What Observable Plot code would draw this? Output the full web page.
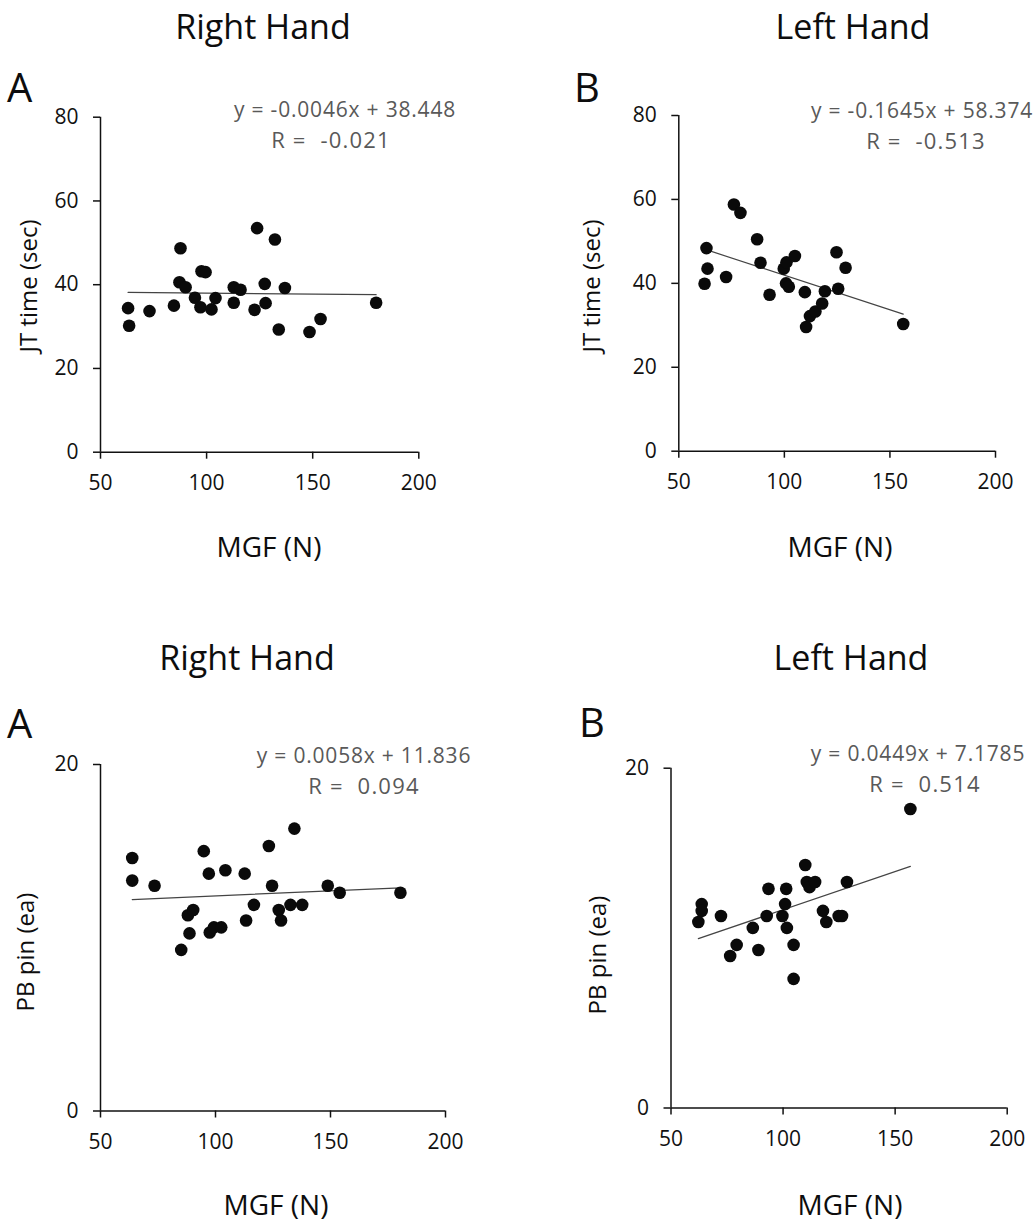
<!DOCTYPE html>
<html><head><meta charset="utf-8">
<script src="https://cdn.jsdelivr.net/npm/d3@7"></script>
<script src="https://cdn.jsdelivr.net/npm/@observablehq/plot@0.6"></script>
<style>
body{margin:0;background:#fff;}
#wrap{position:relative;width:1033px;height:1223px;font-family:"Open Sans",sans-serif;overflow:hidden;}
.panel{position:absolute;}
#ann{position:absolute;left:0;top:0;pointer-events:none;}
</style></head><body><div id="wrap"></div>
<script>
// ---- data ----
const rightJT_x = [63.0,63.5,73.1,84.6,87.7,87.2,90.1,94.5,97.1,97.6,99.5,102.3,104.2,112.8,112.8,116.0,122.6,123.8,127.4,127.8,132.2,134.0,136.9,148.5,153.7,179.9];
const rightJT_y = [34.4,30.2,33.7,35.0,48.7,40.6,39.4,36.9,34.6,43.2,43.0,34.1,36.8,35.7,39.4,38.8,34.0,53.5,40.2,35.6,50.8,29.3,39.2,28.7,31.8,35.7];
const leftJT_x = [62.2,63.1,63.6,72.4,76.1,79.2,87.1,88.7,93.0,99.7,101.0,100.8,102.1,105.0,109.7,110.3,112.1,114.7,117.9,119.2,124.7,125.5,129.0,156.3];
const leftJT_y = [39.9,48.4,43.5,41.5,58.8,56.8,50.5,44.9,37.3,43.5,45.0,40.0,39.2,46.5,37.9,29.6,32.2,33.3,35.2,38.1,47.4,38.7,43.7,30.3];
const rightPB_x = [63.8,63.8,73.5,85.1,88.0,88.7,90.3,94.9,97.1,97.5,99.3,102.5,104.3,112.7,113.3,116.7,123.2,124.6,127.5,128.5,132.6,134.3,137.7,148.8,154.0,180.4];
const rightPB_y = [14.6,13.3,13.0,9.3,11.3,10.25,11.6,15.0,13.7,10.3,10.6,10.6,13.9,13.7,11.0,11.9,15.3,13.0,11.6,11.0,11.9,16.3,11.9,13.0,12.6,12.6];
const leftPB_x = [62.2,63.7,63.7,72.3,76.4,79.3,86.5,89.0,92.7,93.5,99.7,100.9,101.4,101.7,104.7,104.7,109.9,110.6,111.8,114.3,117.8,119.3,124.8,126.3,128.5,156.8];
const leftPB_y = [10.95,12.0,11.6,11.3,8.95,9.6,10.6,9.3,11.3,12.9,11.3,12.0,12.9,10.6,9.6,7.6,14.3,13.3,13.0,13.3,11.6,10.95,11.3,11.3,13.3,17.6];

const slopes = [-0.0046, -0.1645, 0.0058, 0.0449];
const intercepts = [38.448, 58.374, 11.836, 7.1785];
const eqLabels = ["y = -0.0046x + 38.448", "y = -0.1645x + 58.374", "y = 0.0058x + 11.836", "y = 0.0449x + 7.1785"];
const rLabels = ["R =  -0.021", "R =  -0.513", "R =  0.094", "R =  0.514"];
const titles = ["Right Hand", "Left Hand", "Right Hand", "Left Hand"];
const letters = ["A", "B", "A", "B"];
const yLabels = ["JT time (sec)", "JT time (sec)", "PB pin (ea)", "PB pin (ea)"];
const xLabel = "MGF (N)";
const xTicks = [50, 100, 150, 200];
const jtTicks = [0, 20, 40, 60, 80];
const pbTicks = [0, 20];

// ---- layout ----
const panels = [
  {xs: rightJT_x, ys: rightJT_y, yDomain: [0, 80], yTicks: jtTicks, left: 0, top: 0, width: 516, height: 600, mL: 100, mR: 97.7, mT: 116.7, mB: 148.3},
  {xs: leftJT_x, ys: leftJT_y, yDomain: [0, 80], yTicks: jtTicks, left: 516, top: 0, width: 517, height: 600, mL: 162.3, mR: 38, mT: 115, mB: 149.3},
  {xs: rightPB_x, ys: rightPB_y, yDomain: [0, 20], yTicks: pbTicks, left: 0, top: 600, width: 516, height: 623, mL: 100, mR: 71, mT: 164, mB: 112.5},
  {xs: leftPB_x, ys: leftPB_y, yDomain: [0, 20], yTicks: pbTicks, left: 516, top: 600, width: 517, height: 623, mL: 154.5, mR: 26.3, mT: 167.7, mB: 115.5}
];

const wrap = document.getElementById("wrap");

panels.forEach((p, i) => {
  const pts = p.xs.map((x, k) => ({x, y: p.ys[k]}));
  const [x0, x1] = d3.extent(p.xs);
  const fit = [x0, x1].map(x => ({x, y: slopes[i] * x + intercepts[i]}));
  const chart = Plot.plot({
    width: p.width, height: p.height,
    marginLeft: p.mL, marginRight: p.mR, marginTop: p.mT, marginBottom: p.mB,
    style: {fontFamily: "'Open Sans', sans-serif", fontSize: "21px", color: "#111", background: "transparent", overflow: "visible"},
    x: {domain: [50, 200], ticks: xTicks, tickSize: 7, tickPadding: 17, label: null},
    y: {domain: p.yDomain, ticks: p.yTicks, tickSize: 7, tickPadding: 16, label: null},
    marks: [
      Plot.axisX({ticks: xTicks, tickSize: 7, tickPadding: 16, label: null, strokeWidth: 1.5, stroke: "#111"}),
      Plot.axisY({ticks: p.yTicks, tickSize: 7, tickPadding: 15, label: null, strokeWidth: 1.5, stroke: "#111"}),
      Plot.ruleX([50], {stroke: "#111", strokeWidth: 1.5}),
      Plot.ruleY([0], {stroke: "#111", strokeWidth: 1.5}),
      Plot.line(fit, {x: "x", y: "y", stroke: "#444", strokeWidth: 1.2}),
      Plot.dot(pts, {x: "x", y: "y", r: 6.3, fill: "#0a0a0a", stroke: "none"})
    ]
  });
  chart.classList.add("panel");
  chart.style.left = p.left + "px";
  chart.style.top = p.top + "px";
  wrap.appendChild(chart);
});

// ---- annotations (titles, panel letters, axis titles, equations) ----
const ann = [
  {t: titles[0], x: 263, y: 39, s: 34, a: "middle"},
  {t: titles[1], x: 853, y: 39, s: 34, a: "middle"},
  {t: titles[2], x: 247, y: 670, s: 34, a: "middle"},
  {t: titles[3], x: 851, y: 670, s: 34, a: "middle"},
  {t: letters[0], x: 7, y: 102, s: 40, a: "start"},
  {t: letters[1], x: 574, y: 102, s: 40, a: "start"},
  {t: letters[2], x: 7, y: 738, s: 40, a: "start"},
  {t: letters[3], x: 579, y: 737, s: 40, a: "start"},
  {t: yLabels[0], x: 37, y: 286, s: 24, a: "middle", r: true},
  {t: yLabels[1], x: 600, y: 286, s: 24, a: "middle", r: true},
  {t: yLabels[2], x: 34, y: 952, s: 24, a: "middle", r: true},
  {t: yLabels[3], x: 606, y: 955, s: 24, a: "middle", r: true},
  {t: xLabel, x: 269, y: 557, s: 28, a: "middle"},
  {t: xLabel, x: 840, y: 557, s: 28, a: "middle"},
  {t: xLabel, x: 276, y: 1215, s: 28, a: "middle"},
  {t: xLabel, x: 850, y: 1215, s: 28, a: "middle"},
  {t: eqLabels[0], x: 345, y: 117, s: 21, a: "middle", g: true, ls: 0.8},
  {t: rLabels[0], x: 331, y: 148, s: 22, a: "middle", g: true, ls: 1.2},
  {t: eqLabels[1], x: 922, y: 118, s: 21, a: "middle", g: true, ls: 0.8},
  {t: rLabels[1], x: 926, y: 149, s: 22, a: "middle", g: true, ls: 1.2},
  {t: eqLabels[2], x: 364, y: 763, s: 21, a: "middle", g: true, ls: 0.8},
  {t: rLabels[2], x: 364, y: 794, s: 22, a: "middle", g: true, ls: 1.2},
  {t: eqLabels[3], x: 918, y: 761, s: 21, a: "middle", g: true, ls: 0.8},
  {t: rLabels[3], x: 925, y: 792, s: 22, a: "middle", g: true, ls: 1.2}
];
const svg = d3.select(wrap).append("svg").attr("id", "ann").attr("width", 1033).attr("height", 1223)
  .style("font-family", "'Open Sans', sans-serif");
svg.selectAll("text").data(ann).join("text")
  .attr("x", d => d.r ? 0 : d.x)
  .attr("y", d => d.r ? 0 : d.y)
  .attr("transform", d => d.r ? `translate(${d.x},${d.y}) rotate(-90)` : null)
  .attr("text-anchor", d => d.a)
  .attr("font-size", d => d.s)
  .attr("letter-spacing", d => d.ls ? d.ls : null)
  .attr("fill", d => d.g ? "#595959" : "#0d0d0d")
  .style("white-space", "pre")
  .attr("xml:space", "preserve")
  .text(d => d.t);
</script>
</body></html>
